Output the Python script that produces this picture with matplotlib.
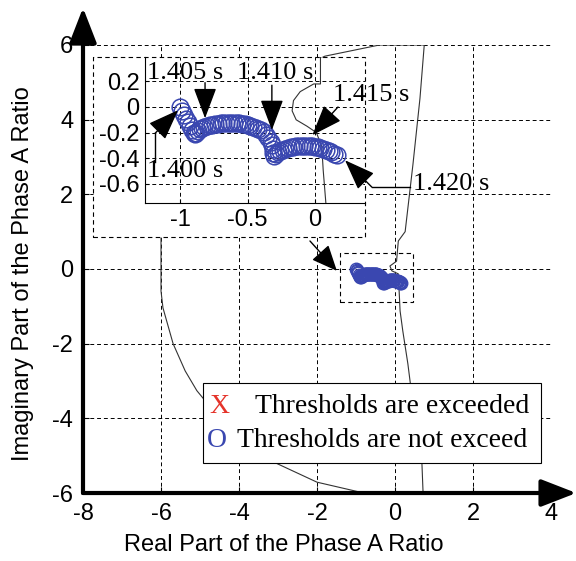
import matplotlib.pyplot as plt
from matplotlib.patches import Rectangle

plt.rcParams['axes.unicode_minus'] = False
SANS = 'Liberation Sans'
SERIF = 'Liberation Serif'
BLUE = '#3a47b0'
RED = '#e5332a'

# threshold boundary (main scale)
bound_x = [-0.4, 0.75, 0.64, 0.46, 0.26, 0.085, 0.04, -0.13, -0.08, 0.085, 0.13, 0.2, 0.33, 0.44,
           0.56, 0.69, 0.72, -0.8, -2.0, -3.03, -4.1, -5.08, -5.38, -5.69, -5.95, -6.0, -6.0,
           -5.6, -4.5, -3.0, -1.95, -1.8, -0.4]
bound_y = [6.0, 6.0, 4.57, 2.8, 1.0, 0.75, 0.21, 0.08, -0.05, -0.13, -1.12, -1.66, -2.54, -3.45,
           -4.33, -5.2, -6.0, -6.0, -5.71, -5.21, -4.5, -3.26, -2.73, -2.0, -1.04, -0.59, 0.84,
           3.0, 4.6, 5.4, 5.62, 5.7, 6.0]

# threshold boundary as seen in the zoomed inset
zoom_bx = [0.04, 0.04, -0.01, -0.11, -0.16, -0.17, -0.14, -0.06, 0.01, 0.05, 0.06, 0.07, 0.08]
zoom_by = [0.40, 0.18, 0.18, 0.12, 0.05, -0.03, -0.10, -0.15, -0.20, -0.31, -0.49, -0.62, -0.75]

# ratio trajectory 1.400 s -> 1.420 s
traj_x = [-1.00, -0.985, -0.97, -0.955, -0.94, -0.925, -0.91, -0.90, -0.89, -0.88,
          -0.87, -0.855, -0.84, -0.82, -0.80, -0.78, -0.76, -0.74, -0.72, -0.70, -0.68, -0.66,
          -0.64, -0.62, -0.60, -0.58, -0.56, -0.54, -0.52, -0.50, -0.48, -0.46, -0.44, -0.42,
          -0.40, -0.38, -0.36, -0.345, -0.33, -0.32, -0.315, -0.31, -0.305,
          -0.29, -0.275, -0.26, -0.24, -0.22, -0.20, -0.18, -0.16, -0.14, -0.12, -0.10, -0.08,
          -0.06, -0.04, -0.02, 0.00, 0.02, 0.04, 0.06, 0.08, 0.10, 0.12, 0.14, 0.16]
traj_y = [0.00, -0.03, -0.06, -0.09, -0.12, -0.15, -0.18, -0.20, -0.21, -0.205,
          -0.19, -0.175, -0.165, -0.155, -0.148, -0.142, -0.137, -0.133, -0.13, -0.128, -0.126,
          -0.125, -0.124, -0.124, -0.125, -0.126, -0.128, -0.131, -0.135, -0.14, -0.146, -0.153,
          -0.161, -0.17, -0.182, -0.196, -0.215, -0.24, -0.27, -0.30, -0.33, -0.36, -0.385,
          -0.37, -0.355, -0.343, -0.333, -0.325, -0.319, -0.314, -0.31, -0.307, -0.305, -0.304,
          -0.303, -0.303, -0.304, -0.306, -0.309, -0.313, -0.318, -0.325, -0.333, -0.342,
          -0.352, -0.364, -0.377]

main_ticks_x = [-8, -6, -4, -2, 0, 2, 4]
main_ticks_y = [-6, -4, -2, 0, 2, 4, 6]
zoom_ticks_x = [-1, -0.5, 0]
zoom_ticks_y = [0.2, 0, -0.2, -0.4, -0.6]

fig = plt.figure(figsize=(5.76, 5.61), dpi=100)
ax = fig.add_axes([0.1441, 0.1212, 0.8125, 0.7986])
ax.set_xlim(-8, 4)
ax.set_ylim(-6, 6)
ax.set_xticks(main_ticks_x)
ax.set_xticklabels([str(v) for v in main_ticks_x], fontfamily=SANS, fontsize=17)
ax.set_yticks(main_ticks_y)
ax.set_yticklabels([str(v) for v in main_ticks_y], fontfamily=SANS, fontsize=17)
ax.tick_params(direction='in', length=4, width=0.8, pad=7)
for s in ax.spines.values():
    s.set_visible(False)
ax.grid(True, color='k', lw=0.7, ls=(0, (4, 3)))
ax.set_axisbelow(True)

# axis arrows
ax.annotate('', xy=(0, 1.083), xytext=(0, 0), xycoords='axes fraction',
            arrowprops=dict(arrowstyle='-|>,head_length=0.9,head_width=0.35', lw=3,
                            color='k', mutation_scale=24, shrinkA=0, shrinkB=0))
ax.annotate('', xy=(1.054, 0), xytext=(0, 0), xycoords='axes fraction',
            arrowprops=dict(arrowstyle='-|>,head_length=0.9,head_width=0.35', lw=3,
                            color='k', mutation_scale=24, shrinkA=0, shrinkB=0))

ax.set_xlabel('Real Part of the Phase A Ratio', fontfamily=SANS, fontsize=17)
ax.set_ylabel('Imaginary Part of the Phase A Ratio', fontfamily=SANS, fontsize=17)
ax.xaxis.set_label_coords(0.43, -0.092)
ax.yaxis.set_label_coords(-0.105, 0.49)

ax.plot(bound_x, bound_y, color='#333333', lw=0.8, zorder=2)
ax.plot(traj_x, traj_y, ls='none', marker='o', ms=9, mfc='none', mec=BLUE, mew=1.0, zorder=3)
ax.add_patch(Rectangle((-1.41, -0.88), 1.87, 1.31, fill=False, ec='k', lw=0.8,
                       ls=(0, (4, 3)), zorder=3))
ax.annotate('', xy=(-1.49, -0.05), xytext=(-2.18, 0.75),
            arrowprops=dict(arrowstyle='-|>,head_length=0.8,head_width=0.35', color='k',
                            lw=1, mutation_scale=20, shrinkA=0, shrinkB=0), zorder=4)

# inset background box
ax.add_patch(Rectangle((0.0214, 0.5714), 0.5812, 0.4016, transform=ax.transAxes,
                       fc='white', ec='k', lw=0.8, ls=(0, (4, 3)), zorder=5))

# legend box
ax.add_patch(Rectangle((0.256, 0.067), 0.723, 0.179, transform=ax.transAxes,
                       fc='white', ec='k', lw=0.8, zorder=5))
ax.text(0.269, 0.192, 'X', transform=ax.transAxes, color=RED, fontfamily=SERIF,
        fontsize=20, va='center', ha='left', zorder=6)
ax.text(0.953, 0.192, 'Thresholds are exceeded', transform=ax.transAxes, fontfamily=SERIF,
        fontsize=20, va='center', ha='right', zorder=6)
ax.text(0.265, 0.118, 'O', transform=ax.transAxes, color=BLUE, fontfamily=SERIF,
        fontsize=20, va='center', ha='left', zorder=6)
ax.text(0.329, 0.118, 'Thresholds are not exceed', transform=ax.transAxes, fontfamily=SERIF,
        fontsize=20, va='center', ha='left', zorder=6)

# zoomed inset
axi = fig.add_axes([0.2517, 0.6381, 0.382, 0.2602])
axi.set_facecolor('none')
axi.set_xlim(-1.26, 0.37)
axi.set_ylim(-0.75, 0.39)
axi.set_xticks(zoom_ticks_x)
axi.set_xticklabels(['-1', '-0.5', '0'], fontfamily=SANS, fontsize=17)
axi.set_yticks(zoom_ticks_y)
axi.set_yticklabels(['0.2', '0', '-0.2', '-0.4', '-0.6'], fontfamily=SANS, fontsize=17)
axi.tick_params(direction='in', length=3, width=0.8, pad=4)
axi.spines['top'].set_visible(False)
axi.spines['right'].set_visible(False)
axi.spines['left'].set_linewidth(0.8)
axi.spines['bottom'].set_linewidth(0.8)
axi.grid(True, color='k', lw=0.7, ls=(0, (4, 3)))
axi.set_axisbelow(True)

axi.plot(zoom_bx, zoom_by, color='#333333', lw=0.8, zorder=2)
axi.plot(traj_x, traj_y, ls='none', marker='o', ms=12, mfc='none', mec=BLUE, mew=1.1,
         zorder=3)

arr = dict(arrowstyle='-|>,head_length=0.8,head_width=0.3', color='k', lw=1,
           mutation_scale=24, shrinkA=0, shrinkB=0)
tfont = dict(fontfamily=SERIF, fontsize=19, va='center', ha='left')

axi.text(-1.244, 0.263, '1.405 s', **tfont)
axi.annotate('', xy=(-0.815, -0.088), xytext=(-0.815, 0.19), arrowprops=arr)
axi.text(-0.578, 0.263, '1.410 s', **tfont)
axi.annotate('', xy=(-0.32, -0.18), xytext=(-0.32, 0.17), arrowprops=arr)
axi.text(0.133, 0.09, '1.415 s', **tfont)
axi.annotate('', xy=(-0.02, -0.22), xytext=(0.17, 0.0), arrowprops=arr, annotation_clip=False)
axi.text(-1.244, -0.50, '1.400 s', **tfont)
axi.plot([-1.185, -1.185], [-0.43, -0.205], color='k', lw=1, clip_on=False)
axi.annotate('', xy=(-1.015, -0.025), xytext=(-1.185, -0.205), arrowprops=arr)
axi.text(0.726, -0.60, '1.420 s', **tfont)
axi.plot([0.70, 0.42], [-0.625, -0.625], color='k', lw=1, clip_on=False)
axi.annotate('', xy=(0.222, -0.416), xytext=(0.42, -0.625), arrowprops=arr,
             annotation_clip=False)

fig.savefig('out.png', dpi=100)
